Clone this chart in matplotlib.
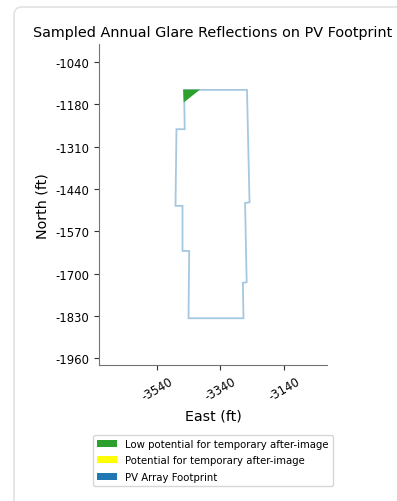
import numpy as np
import matplotlib
matplotlib.use('Agg')
import matplotlib.pyplot as plt
from matplotlib.patches import Polygon, Patch, FancyBboxPatch

# PV array footprint outline (East, North in ft)
footprint_east = [-3454, -3256, -3248, -3262, -3257, -3269, -3267, -3440, -3438, -3459, -3459, -3481, -3478, -3452]
footprint_north = [-1127, -1127, -1476, -1478, -1724, -1726, -1836, -1836, -1627, -1627, -1487, -1487, -1249, -1249]

# sampled glare reflections (low potential for temporary after-image)
glare_east = [-3457, -3404, -3455]
glare_north = [-1126, -1126, -1166]

x_tick_labels = [-3540, -3340, -3140]
y_tick_labels = [-1040, -1180, -1310, -1440, -1570, -1700, -1830, -1960]

legend_labels = ['Low potential for temporary after-image',
                 'Potential for temporary after-image',
                 'PV Array Footprint']
legend_colors = ['#2ca02c', '#ffff00', '#1f77b4']

fig = plt.figure(figsize=(3.97, 5.02), dpi=100)

# card border behind the plot
card = FancyBboxPatch((0.14, -0.5), 5.0, 5.44, boxstyle='round,pad=0,rounding_size=0.08',
                      transform=fig.dpi_scale_trans, facecolor='white', edgecolor='#e2e2e2',
                      linewidth=1.2, zorder=-10)
fig.patches.append(card)

ax = fig.add_axes([0.250, 0.271, 0.573, 0.639])
ax.set_facecolor('none')

ax.add_patch(Polygon(np.column_stack([glare_east, glare_north]), closed=True,
                     facecolor=legend_colors[0], edgecolor='none', zorder=3))
ax.add_patch(Polygon(np.column_stack([footprint_east, footprint_north]), closed=True,
                     facecolor='none', edgecolor='#1f77b4', alpha=0.4, linewidth=1.3, zorder=2))

ax.set_xlim(-3721, -3005)
ax.set_ylim(-1981, -985)

ax.set_xticks(x_tick_labels)
ax.set_xticklabels([str(v) for v in x_tick_labels], rotation=30, fontsize=8.4)
y_pos = np.linspace(y_tick_labels[0], y_tick_labels[-1], len(y_tick_labels))
ax.set_yticks(y_pos)
ax.set_yticklabels([str(v) for v in y_tick_labels], fontsize=8.4)

for s in ['top', 'right']:
    ax.spines[s].set_visible(False)
for s in ['left', 'bottom']:
    ax.spines[s].set_color('0.45')
    ax.spines[s].set_linewidth(0.8)
ax.tick_params(length=3.5, width=0.8, color='0.2')

ax.set_title('Sampled Annual Glare Reflections on PV Footprint', fontsize=10.35, pad=6)
ax.set_xlabel('East (ft)', fontsize=10.3)
ax.set_ylabel('North (ft)', fontsize=10.3)

handles = [Patch(facecolor=c, label=l) for c, l in zip(legend_colors, legend_labels)]
ax.legend(handles=handles, loc='upper center', bbox_to_anchor=(0.5, -0.218), fontsize=7.25,
          frameon=True, borderaxespad=0, labelspacing=0.65)

fig.savefig('out.png', dpi=100)
